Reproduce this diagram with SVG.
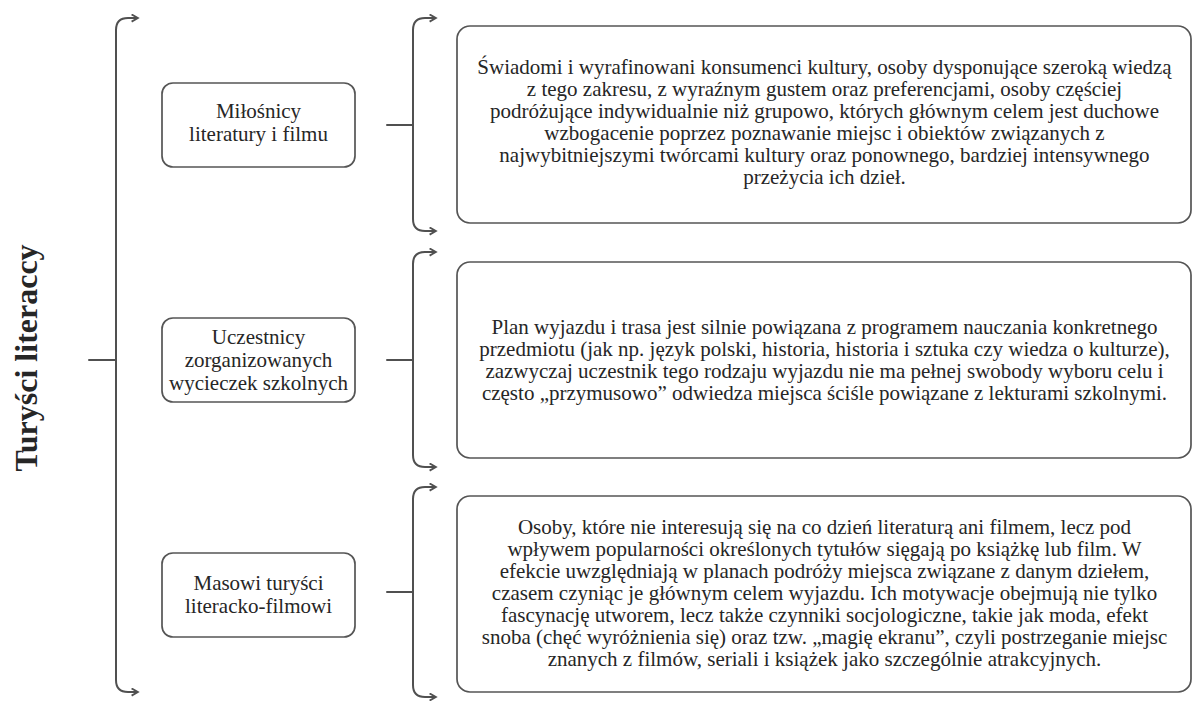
<svg xmlns="http://www.w3.org/2000/svg" width="1193" height="701" viewBox="0 0 1193 701">
<defs>
<style>
.ln{fill:none;stroke:#505050;stroke-width:2;stroke-linecap:round}
.box{fill:#fff;stroke:#555;stroke-width:1.7}
.t{font-family:"Liberation Serif","Times New Roman",serif;font-size:21px;fill:#262626;text-anchor:middle}
.title{font-family:"Liberation Serif","Times New Roman",serif;font-size:32px;font-weight:bold;fill:#262626;text-anchor:middle}
</style>
<marker id="ah" viewBox="0 0 10 10" refX="7" refY="5" markerWidth="9" markerHeight="9" markerUnits="userSpaceOnUse" orient="auto-start-reverse">
<path d="M1,1 L8,5 L1,9" fill="none" stroke="#505050" stroke-width="2"/>
</marker>
</defs>
<rect width="1193" height="701" fill="#fff"/>

<g id="title">
<text class="title" transform="translate(37,358) rotate(-90)">Turyści literaccy</text>
</g>

<g id="connectors">
<path class="ln" d="M89,360 H116"/>
<path class="ln" d="M137,18 H128 Q116,18 116,30 V680 Q116,692 128,692 H137" marker-start="url(#ah)" marker-end="url(#ah)"/>
<path class="ln" d="M387,125 H413"/>
<path class="ln" d="M435,18 H425 Q413,18 413,30 V219 Q413,231 425,231 H435" marker-start="url(#ah)" marker-end="url(#ah)"/>
<path class="ln" d="M387,360 H413"/>
<path class="ln" d="M435,252 H425 Q413,252 413,264 V455 Q413,467 425,467 H435" marker-start="url(#ah)" marker-end="url(#ah)"/>
<path class="ln" d="M387,592 H413"/>
<path class="ln" d="M435,487 H425 Q413,487 413,499 V685 Q413,697 425,697 H435" marker-start="url(#ah)" marker-end="url(#ah)"/>
</g>

<g id="node-milosnicy">
<rect class="box" x="162" y="83" width="193" height="84" rx="11"/>
<text class="t" x="258.5" y="118">Miłośnicy</text>
<text class="t" x="258.5" y="141">literatury i filmu</text>
</g>

<g id="node-uczestnicy">
<rect class="box" x="162" y="318" width="193" height="84" rx="11"/>
<text class="t" x="258.5" y="344">Uczestnicy</text>
<text class="t" x="258.5" y="367">zorganizowanych</text>
<text class="t" x="258.5" y="390">wycieczek szkolnych</text>
</g>

<g id="node-masowi">
<rect class="box" x="162" y="553" width="193" height="84" rx="11"/>
<text class="t" x="258.5" y="590">Masowi turyści</text>
<text class="t" x="258.5" y="613">literacko-filmowi</text>
</g>

<g id="desc-milosnicy">
<rect class="box" x="457" y="26" width="734" height="197" rx="13"/>
<text class="t" x="824.5" y="74">Świadomi i wyrafinowani konsumenci kultury, osoby dysponujące szeroką wiedzą</text>
<text class="t" x="824.5" y="96">z tego zakresu, z wyraźnym gustem oraz preferencjami, osoby częściej</text>
<text class="t" x="824.5" y="118">podróżujące indywidualnie niż grupowo, których głównym celem jest duchowe</text>
<text class="t" x="824.5" y="140">wzbogacenie poprzez poznawanie miejsc i obiektów związanych z</text>
<text class="t" x="824.5" y="162">najwybitniejszymi twórcami kultury oraz ponownego, bardziej intensywnego</text>
<text class="t" x="824.5" y="184">przeżycia ich dzieł.</text>
</g>

<g id="desc-uczestnicy">
<rect class="box" x="457" y="262" width="734" height="196" rx="13"/>
<text class="t" x="824.5" y="334">Plan wyjazdu i trasa jest silnie powiązana z programem nauczania konkretnego</text>
<text class="t" x="824.5" y="356">przedmiotu (jak np. język polski, historia, historia i sztuka czy wiedza o kulturze),</text>
<text class="t" x="824.5" y="378">zazwyczaj uczestnik tego rodzaju wyjazdu nie ma pełnej swobody wyboru celu i</text>
<text class="t" x="824.5" y="400">często „przymusowo” odwiedza miejsca ściśle powiązane z lekturami szkolnymi.</text>
</g>

<g id="desc-masowi">
<rect class="box" x="457" y="496" width="734" height="196" rx="13"/>
<text class="t" x="824.5" y="534">Osoby, które nie interesują się na co dzień literaturą ani filmem, lecz pod</text>
<text class="t" x="824.5" y="556">wpływem popularności określonych tytułów sięgają po książkę lub film. W</text>
<text class="t" x="824.5" y="578">efekcie uwzględniają w planach podróży miejsca związane z danym dziełem,</text>
<text class="t" x="824.5" y="600">czasem czyniąc je głównym celem wyjazdu. Ich motywacje obejmują nie tylko</text>
<text class="t" x="824.5" y="622">fascynację utworem, lecz także czynniki socjologiczne, takie jak moda, efekt</text>
<text class="t" x="824.5" y="644">snoba (chęć wyróżnienia się) oraz tzw. „magię ekranu”, czyli postrzeganie miejsc</text>
<text class="t" x="824.5" y="666">znanych z filmów, seriali i książek jako szczególnie atrakcyjnych.</text>
</g>
</svg>
